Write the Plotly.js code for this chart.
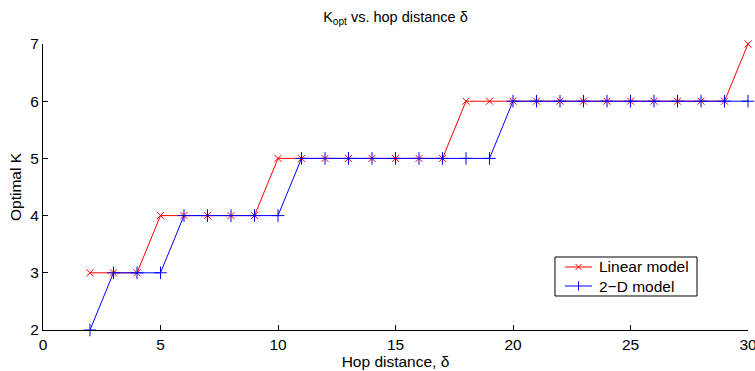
<!DOCTYPE html>
<html><head><meta charset="utf-8">
<script src="https://cdn.plot.ly/plotly-3.0.1.min.js"></script>
<style>body{margin:0;padding:0;background:#fff}#chart{width:755px;height:371px}</style>
</head><body><div id="chart"></div>
<script>
const hop = [2,3,4,5,6,7,8,9,10,11,12,13,14,15,16,17,18,19,20,21,22,23,24,25,26,27,28,29,30];
const linearK = [3,3,3,4,4,4,4,4,5,5,5,5,5,5,5,5,6,6,6,6,6,6,6,6,6,6,6,6,7];
const twoDK = [2,3,3,3,4,4,4,4,4,5,5,5,5,5,5,5,5,5,6,6,6,6,6,6,6,6,6,6,6];
const seriesNames = ['Linear model', '2\u2212D model'];
const xTicks = [0,5,10,15,20,25,30];
const yTicks = [2,3,4,5,6,7];

const fam = '"Liberation Sans", Arial, Helvetica, sans-serif';
const fs = 15.5;
const colors = ['#ff0000', '#0000ff'];
const traces = [
  {x: hop, y: linearK, name: seriesNames[0], mode: 'lines+markers', cliponaxis: false, showlegend: false,
   line: {color: colors[0], width: 1},
   marker: {symbol: 'x-thin-open', size: 7, line: {color: colors[0], width: 1}}},
  {x: hop, y: twoDK, name: seriesNames[1], mode: 'lines+markers', cliponaxis: false, showlegend: false,
   line: {color: colors[1], width: 1},
   marker: {symbol: 'cross-thin-open', size: 9, line: {color: colors[1], width: 1}}}
];

// custom legend (paper coords of the plot area)
const legBox = {x0: 0.7262, x1: 0.9277, y0: 0.1189, y1: 0.2552};
const rowY = [0.2203, 0.1538];
const sampleX0 = 0.7404, sampleX1 = 0.7787, sampleXc = 0.7596, textX = 0.7865;
const shapes = [{type: 'rect', xref: 'paper', yref: 'paper', x0: legBox.x0, x1: legBox.x1, y0: legBox.y0, y1: legBox.y1,
  line: {color: '#000', width: 1}, fillcolor: '#fff', layer: 'below'}];
const annotations = [];
seriesNames.forEach((nm, i) => {
  shapes.push({type: 'line', xref: 'paper', yref: 'paper', x0: sampleX0, x1: sampleX1, y0: rowY[i], y1: rowY[i],
    line: {color: colors[i], width: 1}});
  if (i === 0) {
    shapes.push({type: 'line', xref: 'paper', yref: 'paper', xsizemode: 'pixel', ysizemode: 'pixel',
      xanchor: sampleXc, yanchor: rowY[i], x0: -3, x1: 3, y0: -3, y1: 3, line: {color: colors[i], width: 1}});
    shapes.push({type: 'line', xref: 'paper', yref: 'paper', xsizemode: 'pixel', ysizemode: 'pixel',
      xanchor: sampleXc, yanchor: rowY[i], x0: -3, x1: 3, y0: 3, y1: -3, line: {color: colors[i], width: 1}});
  } else {
    shapes.push({type: 'line', xref: 'paper', yref: 'paper', xsizemode: 'pixel', ysizemode: 'pixel',
      xanchor: sampleXc, yanchor: rowY[i], x0: 0, x1: 0, y0: -4.5, y1: 4.5, line: {color: colors[i], width: 1}});
  }
  annotations.push({xref: 'paper', yref: 'paper', x: textX, y: rowY[i], xanchor: 'left', yanchor: 'middle',
    text: nm, showarrow: false, font: {family: fam, size: 15.5, color: '#000'}});
});

const layout = {
  width: 755, height: 371,
  margin: {l: 43, r: 7, t: 44, b: 41},
  paper_bgcolor: '#fff', plot_bgcolor: '#fff',
  font: {family: fam, size: fs, color: '#000'},
  showlegend: false,
  title: {text: 'K<sub>opt</sub> vs. hop distance \u03b4', x: 0.5238, xanchor: 'center', y: 0.955, yanchor: 'middle', font: {family: fam, size: 14.5, color: '#000'}},
  xaxis: {range: [0, 30], tickvals: xTicks, ticktext: xTicks.map(String), ticks: 'inside', ticklen: 5, tickcolor: '#000',
    ticklabeloverflow: 'allow',
    showline: true, linecolor: '#000', linewidth: 1, showgrid: false, zeroline: false, mirror: false,
    tickfont: {family: fam, size: fs, color: '#000'},
    title: {text: 'Hop distance, \u03b4', standoff: 0, font: {family: fam, size: fs, color: '#000'}}},
  yaxis: {range: [2, 7], tickvals: yTicks, ticktext: yTicks.map(String), ticks: 'inside', ticklen: 5, tickcolor: '#000',
    showline: true, linecolor: '#000', linewidth: 1, showgrid: false, zeroline: false, mirror: false,
    tickfont: {family: fam, size: fs, color: '#000'},
    title: {text: 'Optimal K', standoff: 4, font: {family: fam, size: fs, color: '#000'}}},
  shapes: shapes,
  annotations: annotations
};
Plotly.newPlot('chart', traces, layout, {displayModeBar: false, staticPlot: true});
</script></body></html>
